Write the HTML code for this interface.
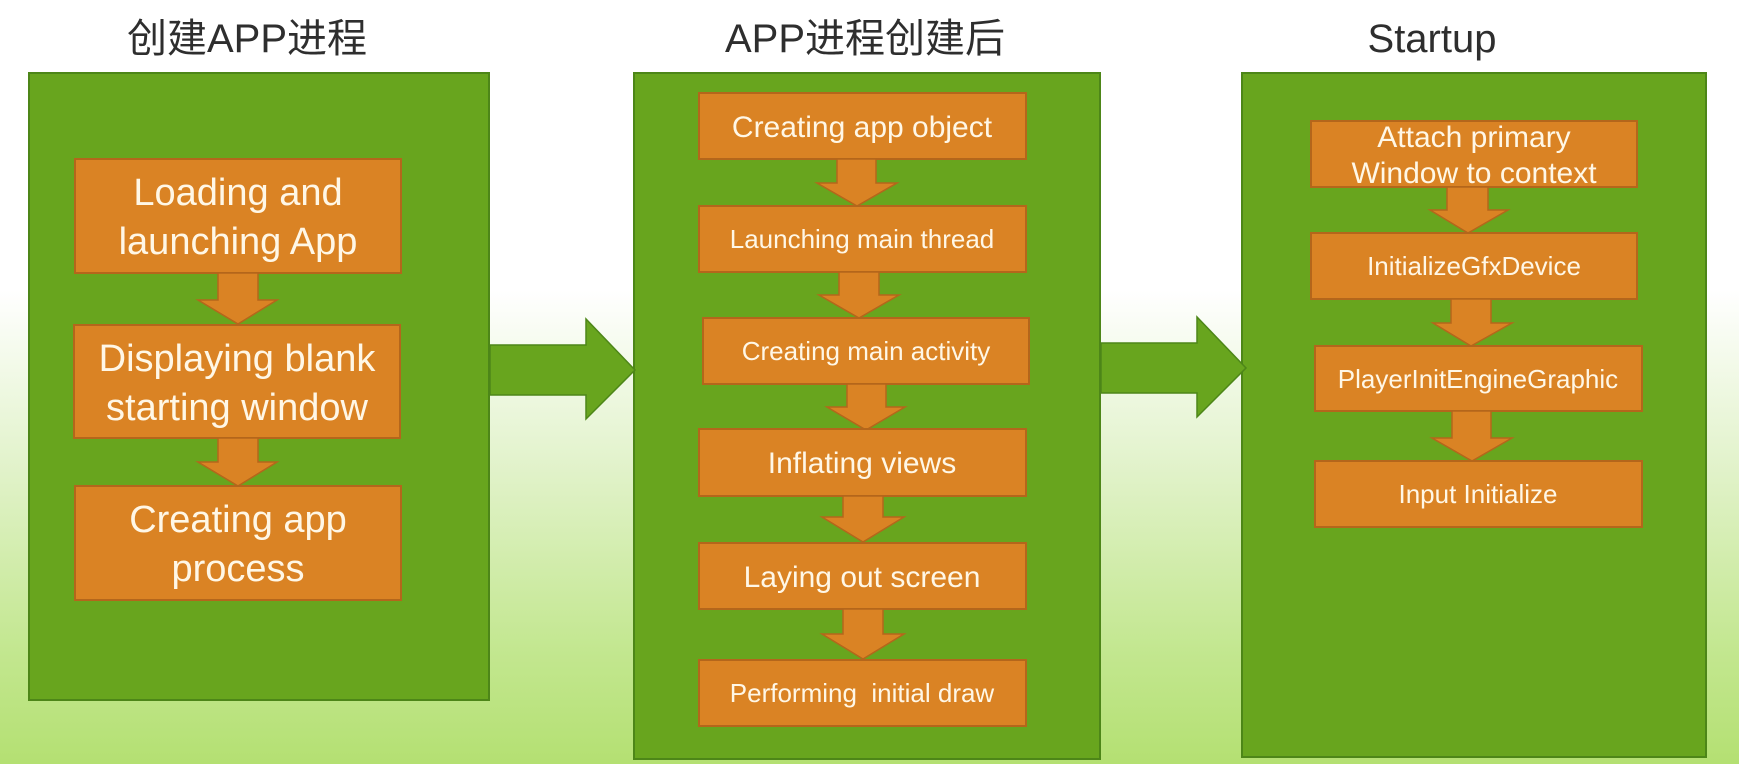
<!DOCTYPE html>
<html>
<head>
<meta charset="utf-8">
<style>
  html,body{margin:0;padding:0;background:#fff;}
  svg{display:block;}
  text{font-family:"Liberation Sans","Noto Sans CJK SC",sans-serif;}
  .t{fill:#fff7e6;text-anchor:middle;}
  .h{fill:#2e2e2e;text-anchor:middle;font-size:40px;}
  .box{fill:#da8324;stroke:#b4661b;stroke-width:2;}
  .arr{fill:#da8324;stroke:#b4661b;stroke-width:1.5;stroke-linejoin:miter;}
  .panel{fill:#68a51e;stroke:#4d8618;stroke-width:2;}
  .garr{fill:#68a51e;stroke:#4d8618;stroke-width:1.5;}
</style>
</head>
<body>
<svg width="1739" height="764" viewBox="0 0 1739 764" xmlns="http://www.w3.org/2000/svg">
  <defs>
    <linearGradient id="bg" x1="0" y1="0" x2="0" y2="1">
      <stop offset="0" stop-color="#ffffff"/>
      <stop offset="0.38" stop-color="#ffffff"/>
      <stop offset="0.6" stop-color="#e3f3cd"/>
      <stop offset="0.85" stop-color="#c3e790"/>
      <stop offset="1" stop-color="#b4e072"/>
    </linearGradient>
  </defs>
  <rect x="0" y="0" width="1739" height="764" fill="url(#bg)"/>

  <!-- Titles -->
  <text class="h" x="247" y="52">创建APP进程</text>
  <text class="h" x="865" y="52">APP进程创建后</text>
  <text class="h" x="1432" y="52">Startup</text>

  <!-- Panels -->
  <rect class="panel" x="29" y="73" width="460" height="627"/>
  <rect class="panel" x="634" y="73" width="466" height="686"/>
  <rect class="panel" x="1242" y="73" width="464" height="684"/>

  <!-- Big green arrows -->
  <polygon class="garr" points="490,345 586,345 586,319 635,370 586,419 586,395 490,395"/>
  <polygon class="garr" points="1101,343 1197,343 1197,317 1246,368 1197,417 1197,393 1101,393"/>

  <!-- Panel 1 -->
  <rect class="box" x="75" y="159" width="326" height="114"/>
  <text class="t" style="font-size:38px" x="238" y="205">Loading and</text>
  <text class="t" style="font-size:38px" x="238" y="254">launching App</text>

  <polygon class="arr" points="218,273 258,273 258,300 277,300 238,324 198,300 218,300"/>

  <rect class="box" x="74" y="325" width="326" height="113"/>
  <text class="t" style="font-size:38px" x="237" y="371">Displaying blank</text>
  <text class="t" style="font-size:38px" x="237" y="420">starting window</text>

  <polygon class="arr" points="218,438 258,438 258,462 277,462 238,486 198,462 218,462"/>

  <rect class="box" x="75" y="486" width="326" height="114"/>
  <text class="t" style="font-size:38px" x="238" y="532">Creating app</text>
  <text class="t" style="font-size:38px" x="238" y="581">process</text>

  <!-- Panel 2 -->
  <rect class="box" x="699" y="93" width="327" height="66"/>
  <text class="t" style="font-size:30px" x="862" y="137">Creating app object</text>

  <polygon class="arr" points="837,159 876,159 876,183 897,183 857,206 817,183 837,183"/>

  <rect class="box" x="699" y="206" width="327" height="66"/>
  <text class="t" style="font-size:26px" x="862" y="248">Launching main thread</text>

  <polygon class="arr" points="839,272 879,272 879,295 899,295 859,318 819,295 839,295"/>

  <rect class="box" x="703" y="318" width="326" height="66"/>
  <text class="t" style="font-size:26px" x="866" y="360">Creating main activity</text>

  <polygon class="arr" points="847,384 886,384 886,407 905,407 866,430 827,407 847,407"/>

  <rect class="box" x="699" y="429" width="327" height="67"/>
  <text class="t" style="font-size:30px" x="862" y="473">Inflating views</text>

  <polygon class="arr" points="843,496 883,496 883,517 904,517 863,542 822,517 843,517"/>

  <rect class="box" x="699" y="543" width="327" height="66"/>
  <text class="t" style="font-size:30px" x="862" y="587">Laying out screen</text>

  <polygon class="arr" points="843,609 883,609 883,634 904,634 863,659 822,634 843,634"/>

  <rect class="box" x="699" y="660" width="327" height="66"/>
  <text class="t" style="font-size:26px" x="862" y="702" xml:space="preserve">Performing  initial draw</text>

  <!-- Panel 3 -->
  <rect class="box" x="1311" y="121" width="326" height="66"/>
  <text class="t" style="font-size:30px" x="1474" y="147">Attach primary</text>
  <text class="t" style="font-size:30px" x="1474" y="183">Window to context</text>

  <polygon class="arr" points="1447,187 1488,187 1488,210 1508,210 1468,233 1430,210 1447,210"/>

  <rect class="box" x="1311" y="233" width="326" height="66"/>
  <text class="t" style="font-size:26px" x="1474" y="275">InitializeGfxDevice</text>

  <polygon class="arr" points="1451,299 1491,299 1491,323 1512,323 1471,346 1433,323 1451,323"/>

  <rect class="box" x="1315" y="346" width="327" height="65"/>
  <text class="t" style="font-size:26px" x="1478" y="388">PlayerInitEngineGraphic</text>

  <polygon class="arr" points="1452,411 1491,411 1491,438 1512,438 1472,461 1432,438 1452,438"/>

  <rect class="box" x="1315" y="461" width="327" height="66"/>
  <text class="t" style="font-size:26px" x="1478" y="503">Input Initialize</text>
</svg>
</body>
</html>
